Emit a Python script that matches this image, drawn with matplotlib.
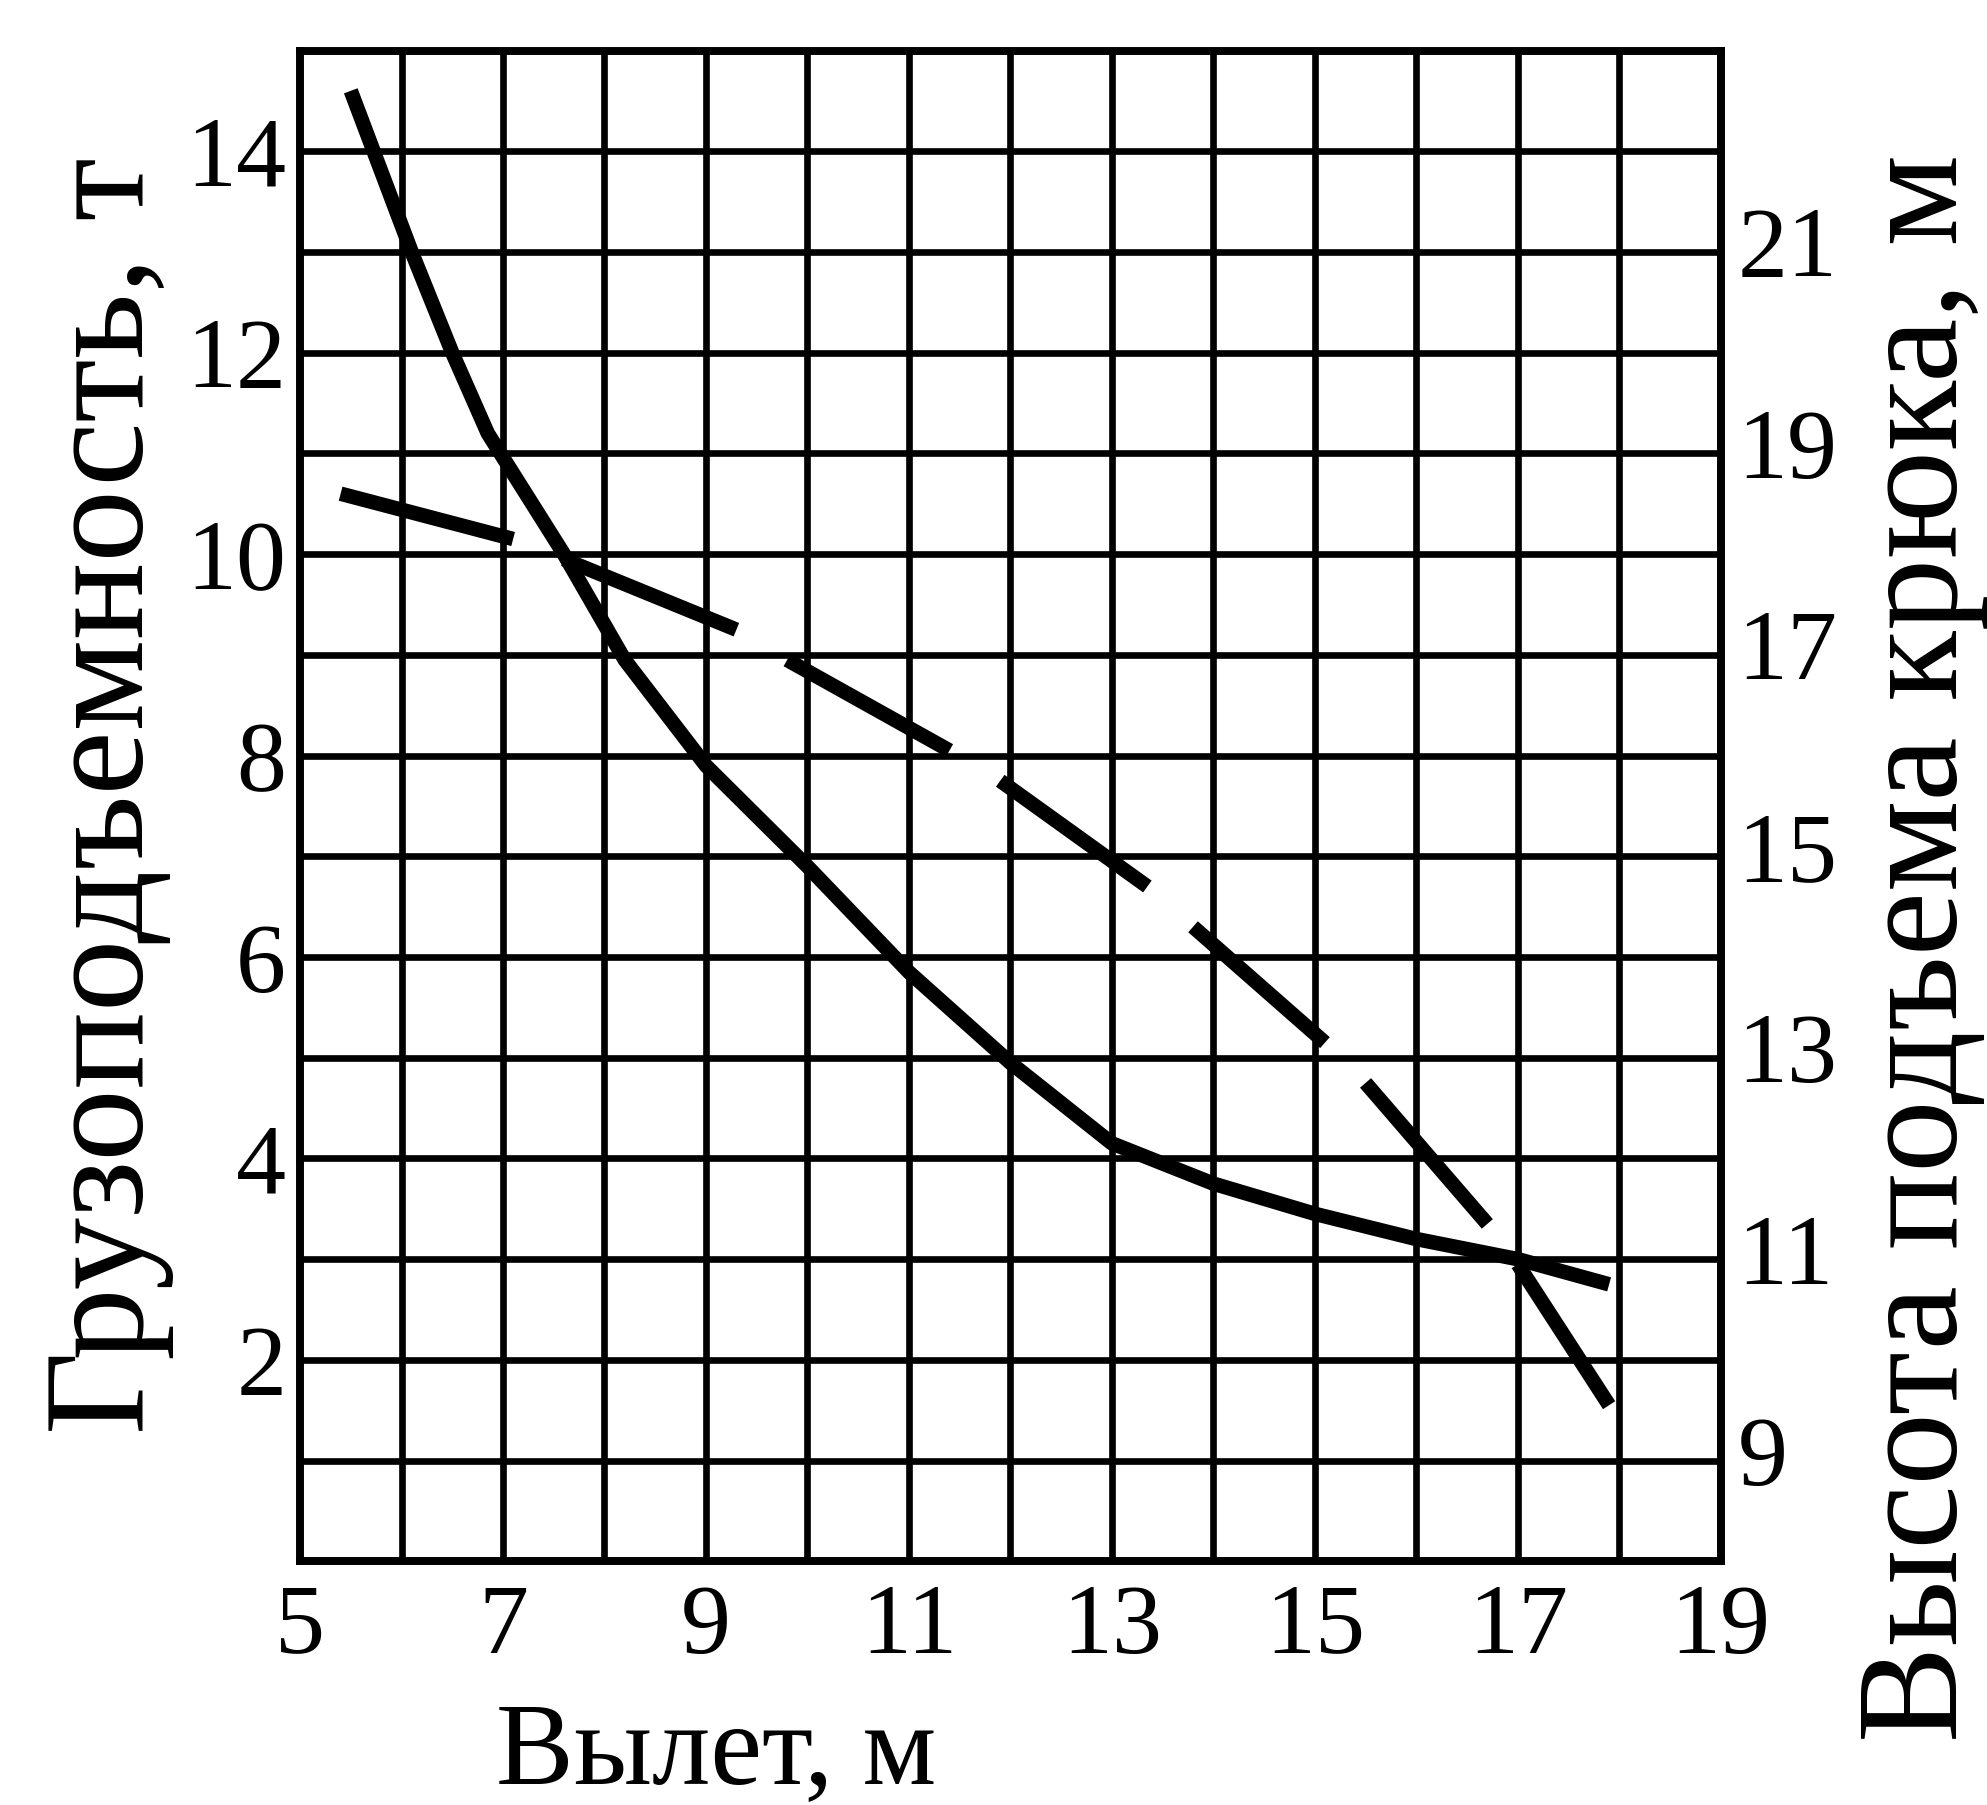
import matplotlib
matplotlib.use("Agg")
import matplotlib.pyplot as plt
from matplotlib.transforms import ScaledTranslation

# load capacity curve (left axis, t) vs outreach (m)
reach = [5.5, 6.1, 6.5, 6.85, 7.6, 8.0, 8.2, 9.0, 10.0, 11.0, 12.0, 13.0,
         14.0, 15.0, 16.0, 17.0, 17.9]
load = [14.6, 13.0, 12.0, 11.2, 10.0, 9.3, 8.95, 7.9, 6.9, 5.85, 4.95, 4.15,
        3.75, 3.45, 3.2, 3.0, 2.75]

# hook height (right axis, m), drawn as separate dashes; None breaks the line
hook_reach = [5.4, 7.1, None, 7.6, 9.3, None, 9.8, 11.4, None, 11.9, 13.35, None,
              13.8, 15.1, None, 15.5, 16.7, None, 17.0, 17.9]
hook_height = [18.6, 18.15, None, 17.95, 17.25, None, 16.95, 16.05, None, 15.75, 14.7, None,
               14.3, 13.15, None, 12.75, 11.35, None, 10.95, 9.55]

x_ticks = [5, 7, 9, 11, 13, 15, 17, 19]
left_ticks = [2, 4, 6, 8, 10, 12, 14]
right_ticks = [9, 11, 13, 15, 17, 19, 21]

plt.rcParams["font.family"] = ["Liberation Serif", "DejaVu Serif"]

fig = plt.figure(figsize=(19.87, 18.05), dpi=100)
ax = fig.add_axes([0.151, 0.135, 0.715, 0.837])
ax2 = ax.twinx()

ax.set_xlim(5, 19)
ax.set_ylim(0, 15)
ax2.set_ylim(8, 23)

# 1 m / 1 t grid
for v in range(6, 19):
    ax.axvline(v, color="black", lw=4.8, zorder=1)
for v in range(1, 15):
    ax.axhline(v, color="black", lw=4.8, zorder=1)
for sp in list(ax.spines.values()) + list(ax2.spines.values()):
    sp.set_linewidth(5.5)

ax.plot(reach, load, color="black", lw=10.5, solid_capstyle="butt", zorder=3)
hx = [float("nan") if v is None else v for v in hook_reach]
hy = [float("nan") if v is None else v for v in hook_height]
ax2.plot(hx, hy, color="black", lw=10.5, solid_capstyle="butt", zorder=3)

ax.set_xticks(x_ticks)
ax.set_yticks(left_ticks)
ax2.set_yticks(right_ticks)
ax.tick_params(length=0, labelsize=72, pad=16)
ax.tick_params(axis="y", pad=10)
ax2.tick_params(length=0, labelsize=72, pad=12)
for lab in ax2.get_yticklabels():
    lab.set_transform(lab.get_transform() + ScaledTranslation(0, 0.1, fig.dpi_scale_trans))

ax.text(0.293, -0.128, "Вылет, м", transform=ax.transAxes, fontsize=84,
        ha="center", va="center")
ax.text(-0.135, 0.507, "Грузоподъемность, т", transform=ax.transAxes, fontsize=104,
        ha="center", va="center", rotation=90)
ax.text(1.142, 0.406, "Высота подъема крюка, м", transform=ax.transAxes, fontsize=104,
        ha="center", va="center", rotation=90)

fig.savefig("out.png", dpi=100)
